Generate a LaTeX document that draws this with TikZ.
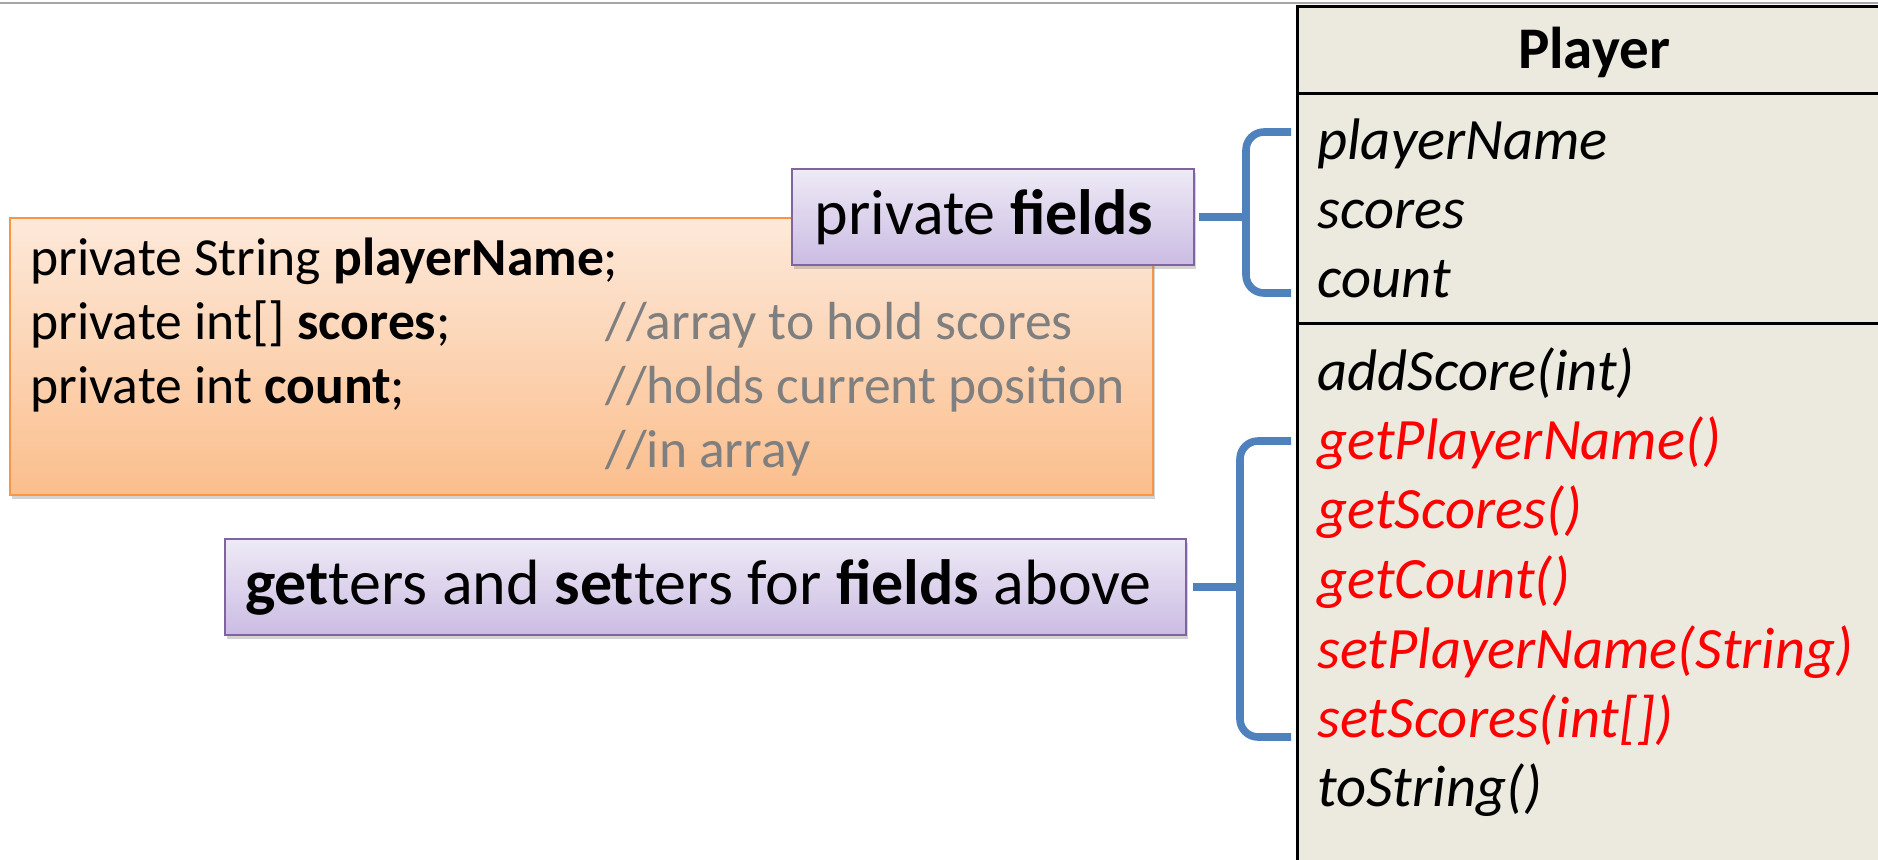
\documentclass[tikz,border=0pt]{standalone}
\usepackage{fontspec}
\setmainfont{Carlito}
\usetikzlibrary{positioning,shadows}
\definecolor{umlfill}{HTML}{ECE9DF}
\definecolor{bracket}{HTML}{4F81BD}
\definecolor{codetop}{HTML}{FDE9DA}
\definecolor{codebot}{HTML}{FBBE8C}
\definecolor{codeedge}{HTML}{F79646}
\definecolor{notetop}{HTML}{EEEAF6}
\definecolor{notebot}{HTML}{CBBCE3}
\definecolor{noteedge}{HTML}{8064A2}
\definecolor{commentgray}{HTML}{7F7F7F}

\tikzset{
  codebox/.style={draw=codeedge,line width=1.2pt,top color=codetop,bottom color=codebot,
    drop shadow={shadow xshift=1pt,shadow yshift=-2pt,opacity=.35}},
  notebox/.style={draw=noteedge,line width=1.2pt,top color=notetop,bottom color=notebot,
    minimum height=48pt,inner sep=0pt,font=\fontsize{32}{36}\selectfont,
    drop shadow={shadow xshift=1pt,shadow yshift=-2pt,opacity=.35}},
  codeline/.style={anchor=base west,inner sep=0pt,font=\fontsize{26.8}{30}\selectfont},
  comment/.style={codeline,text=commentgray},
  member/.style={anchor=base west,inner sep=0pt,font=\fontsize{29.3}{34}\selectfont\itshape},
  accessor/.style={member,text=red},
  bracket/.style={draw=bracket,line width=3.8pt,rounded corners=9pt}
}

\begin{document}
\begin{tikzpicture}[x=0.5pt,y=-0.5pt]
\useasboundingbox (0,0) rectangle (1878,859);
\draw[gray!70,line width=1.2pt] (0,3) -- (1878,3);

\draw[line width=1.5pt,fill=umlfill] (1297,6) rectangle (1892,870);
\draw[line width=1.5pt] (1297,93) -- (1892,93);
\draw[line width=1.5pt] (1297,323) -- (1892,323);
\node[font=\fontsize{29.5}{34}\selectfont\bfseries] (title) at (1594,52) {Player};

\node[member] (playerName) at (1317,159) {playerName};
\node[member] (scores) at (1317,228) {scores};
\node[member] (count) at (1317,297) {count};

\node[member] (addScore) at (1317,390) {addScore(int)};
\node[accessor] (getPlayerName) at (1317,459) {getPlayerName()};
\node[accessor] (getScores) at (1317,528) {getScores()};
\node[accessor] (getCount) at (1317,598) {getCount()};
\node[accessor] (setPlayerName) at (1317,668) {setPlayerName(String)};
\node[accessor] (setScores) at (1317,737) {setScores(int[])};
\node[member] (toString) at (1317,806) {toString()};

\node[codebox,minimum width=571.5pt,minimum height=138.5pt] (code) at (581.5,356.5) {};
\node[codeline] (line1) at (30,275) {private String \textbf{playerName};};
\node[codeline] (line2) at (30,339) {private int[] \textbf{scores};};
\node[codeline] (line3) at (30,403) {private int \textbf{count};};
\node[comment] (note2) at (605,339) {//array to hold scores};
\node[comment] (note3) at (605,403) {//holds current position};
\node[comment] (note4) at (605,467) {//in array};

\node[notebox,minimum width=201pt] (fields) at (993,217) {private \textbf{fields}\hspace*{9pt}};
\node[notebox,minimum width=480.5pt] (accessors) at (705.5,587) {\textbf{get}ters and \textbf{set}ters for \textbf{fields} above\hspace*{7pt}};

\coordinate (ftop) at (1291,132);
\coordinate (fbot) at (1291,293);
\draw[bracket] (ftop) -- (1246,132) -- (1246,203) [sharp corners] .. controls (1246,217) .. (1228,217) -- ([xshift=2pt]fields.east);
\draw[bracket] ([xshift=2pt]fields.east) -- (1228,217) .. controls (1246,217) .. (1246,231) [rounded corners=9pt] -- (1246,293) -- (fbot);

\coordinate (mtop) at (1291,441);
\coordinate (mbot) at (1291,737);
\draw[bracket] (mtop) -- (1240,441) -- (1240,573) [sharp corners] .. controls (1240,587) .. (1222,587) -- ([xshift=3pt]accessors.east);
\draw[bracket] ([xshift=3pt]accessors.east) -- (1222,587) .. controls (1240,587) .. (1240,601) [rounded corners=9pt] -- (1240,737) -- (mbot);
\end{tikzpicture}
\end{document}
